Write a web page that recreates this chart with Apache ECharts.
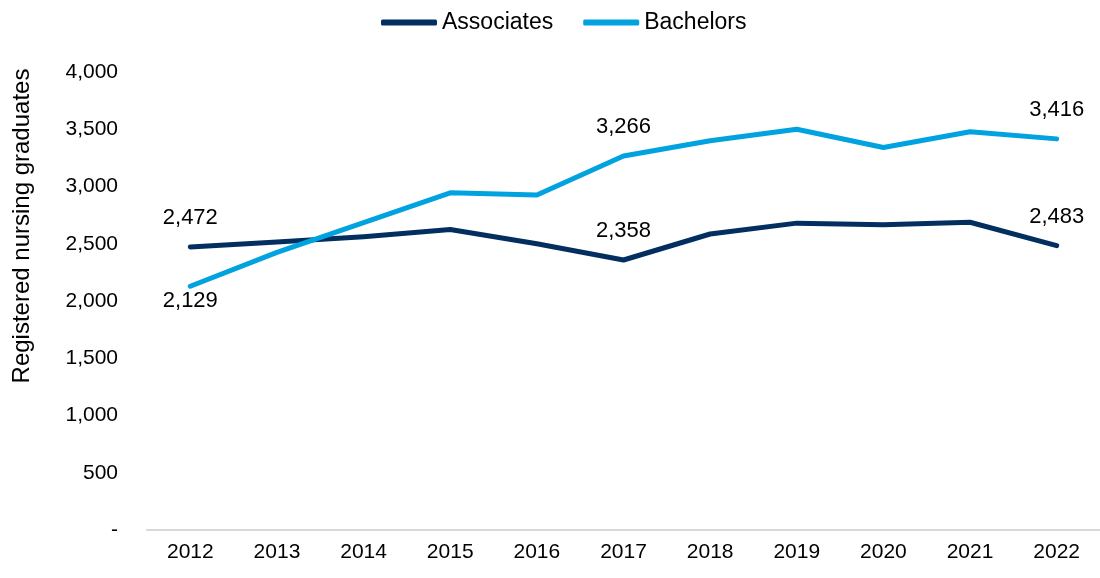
<!DOCTYPE html>
<html>
<head>
<meta charset="utf-8">
<script src="https://cdn.jsdelivr.net/npm/echarts@6/dist/echarts.min.js"></script>
<style>
  html, body { margin: 0; padding: 0; background: #fff; }
  #chart { width: 1100px; height: 578px; }
</style>
</head>
<body>
<div id="chart"></div>
<script>
var years = ['2012', '2013', '2014', '2015', '2016', '2017', '2018', '2019', '2020', '2021', '2022'];
var associates = [2472, 2515, 2562, 2625, 2500, 2358, 2585, 2680, 2665, 2688, 2483];
var bachelors = [2129, 2425, 2685, 2945, 2925, 3266, 3400, 3500, 3340, 3478, 3416];
var labelled = [0, 5, 10];

var font = 'Liberation Sans, Arial, sans-serif';

function fmt(v) {
  return v === 0 ? '-' : v.toLocaleString('en-US');
}

// only some points carry a value label
function withLabels(values, posFor) {
  return values.map(function (v, i) {
    if (labelled.indexOf(i) < 0) return v;
    var pos = posFor(i);
    return {
      value: v,
      label: {
        show: true,
        position: pos,
        distance: pos === 'top' ? 18 : 4,
        formatter: function (p) { return fmt(p.value); },
        color: '#000',
        fontSize: 22,
        fontFamily: font
      }
    };
  });
}

var chart = echarts.init(document.getElementById('chart'));
chart.setOption({
  animation: false,
  backgroundColor: '#fff',
  legend: {
    top: 6,
    left: 376,
    itemWidth: 56,
    itemHeight: 6,
    itemGap: 30,
    icon: 'roundRect',
    textStyle: { fontSize: 23, color: '#000', fontFamily: font },
    data: ['Associates', 'Bachelors']
  },
  grid: { left: 147, right: 0, top: 72, bottom: 48 },
  xAxis: {
    type: 'category',
    data: years,
    axisLine: { lineStyle: { color: '#d9d9d9', width: 2 } },
    axisTick: { show: false },
    axisLabel: { color: '#000', fontSize: 21, fontFamily: font, margin: 12 }
  },
  yAxis: {
    type: 'value',
    min: 0,
    max: 4000,
    interval: 500,
    name: 'Registered nursing graduates',
    nameLocation: 'middle',
    nameGap: 113,
    nameTextStyle: { fontSize: 24, color: '#000', fontFamily: font, padding: [0, 0, 0, 150] },
    axisLine: { show: false },
    axisTick: { show: false },
    splitLine: { show: false },
    axisLabel: { color: '#000', fontSize: 21, fontFamily: font, margin: 29, formatter: fmt }
  },
  series: [
    {
      name: 'Associates',
      type: 'line',
      data: withLabels(associates, function () { return 'top'; }),
      symbol: 'circle',
      symbolSize: 0,
      showSymbol: true,
      lineStyle: { color: '#022f5f', width: 5, cap: 'round', join: 'round' },
      itemStyle: { color: '#022f5f' }
    },
    {
      name: 'Bachelors',
      type: 'line',
      data: withLabels(bachelors, function (i) { return i === 0 ? 'bottom' : 'top'; }),
      symbol: 'circle',
      symbolSize: 0,
      showSymbol: true,
      lineStyle: { color: '#00a3e0', width: 5, cap: 'round', join: 'round' },
      itemStyle: { color: '#00a3e0' }
    }
  ]
});
</script>
</body>
</html>
